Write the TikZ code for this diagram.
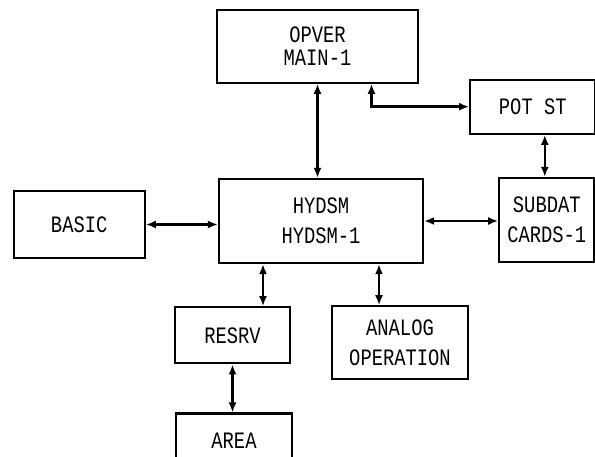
\documentclass[tikz,border=0pt]{standalone}
\usepackage{fontspec}
\setmainfont[FakeStretch=0.8]{Liberation Mono}
\usepackage{tikz}
\usetikzlibrary{arrows.meta,positioning}
\tikzset{
  blk/.style={draw=black, line width=2.3pt, fill=white, align=center, inner sep=0pt,
    font=\fontsize{23.5}{30}\selectfont},
  dbl/.style={{Latex[length=10pt,width=8pt]}-{Latex[length=10pt,width=8pt]}, line width=2.6pt}
}
\begin{document}
\begin{tikzpicture}[x=1pt, y=-1pt]
  \useasboundingbox (0,0) rectangle (595,457);
  \node[blk, minimum width=204pt, minimum height=84pt] (hydsm) at (321,221) {HYDSM\\HYDSM-1};
  \node[blk, minimum width=201pt, minimum height=73pt, above=94pt of hydsm, xshift=-3.5pt,
    font=\fontsize{23.5}{23}\selectfont] (opver) {OPVER\\MAIN-1};
  \node[blk, minimum width=131pt, minimum height=67pt, left=72pt of hydsm, yshift=-3.5pt] (basic) {BASIC};
  \node[blk, minimum width=95pt, minimum height=84pt, right=74pt of hydsm, yshift=1pt] (subdat) {SUBDAT\\CARDS-1};
  \node[blk, minimum width=125pt, minimum height=54pt, above=42pt of subdat, xshift=-14pt] (potst) {POT ST};
  \node[blk, minimum width=115pt, minimum height=56pt, below=42pt of hydsm, xshift=-88.5pt] (resrv) {RESRV};
  \node[blk, minimum width=136pt, minimum height=73pt, below=41pt of hydsm, xshift=79pt] (analog) {ANALOG\\OPERATION};
  \node[blk, minimum width=116pt, minimum height=54pt, below=48pt of resrv, xshift=1.5pt] (area) {AREA};
  \draw[dbl] (opver.south) -- (opver.south |- hydsm.north);
  \draw[dbl] ([xshift=54pt]opver.south) |- (potst.west);
  \draw[dbl] ([xshift=12pt]potst.south) -- ([xshift=12pt]potst.south |- subdat.north);
  \draw[dbl] (basic.east) -- (basic.east -| hydsm.west);
  \draw[dbl] (hydsm.east) -- (hydsm.east -| subdat.west);
  \draw[dbl] ([xshift=-58pt]hydsm.south) -- ([xshift=-58pt]hydsm.south |- resrv.north);
  \draw[dbl] ([xshift=58pt]hydsm.south) -- ([xshift=58pt]hydsm.south |- analog.north);
  \draw[dbl] (resrv.south) -- (resrv.south |- area.north);
\end{tikzpicture}
\end{document}
